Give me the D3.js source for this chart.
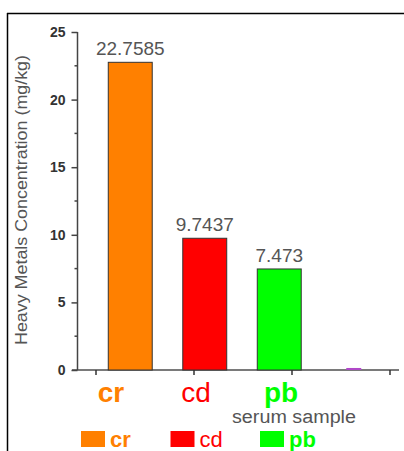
<!DOCTYPE html>
<html>
<head>
<meta charset="utf-8">
<script src="https://cdn.jsdelivr.net/npm/d3@7"></script>
<style>
  html, body { margin: 0; padding: 0; background: #fff; }
  svg { display: block; font-family: "Liberation Sans", Arial, sans-serif; }
</style>
</head>
<body>
<svg id="chart" width="404" height="451"></svg>
<script>
// ---- data ----
const categories = ["cr", "cd", "pb", ""];
const values = [22.7585, 9.7437, 7.473, 0.15];
const valueLabels = ["22.7585", "9.7437", "7.473", ""];
const barColors = ["#ff8000", "#ff0000", "#00ff00", "#b048c8"];
const legendCats = ["cr", "cd", "pb"];
const legendWeights = ["bold", "normal", "bold"];
const yTicks = [0, 5, 10, 15, 20, 25];
const yTitle = "Heavy Metals Concentration (mg/kg)";
const xTitle = "serum sample";

const svg = d3.select("#chart");

// frame
svg.append("line").attr("x1", 7.5).attr("x2", 7.5).attr("y1", 13).attr("y2", 451)
  .attr("stroke", "#000").attr("stroke-width", 1.5);
svg.append("line").attr("x1", 7).attr("x2", 404).attr("y1", 13.5).attr("y2", 13.5)
  .attr("stroke", "#000").attr("stroke-width", 1.5);

const y = d3.scaleLinear().domain([0, 25]).range([370, 32]);
const x = d3.scaleBand().domain(categories).range([93, 391])
  .paddingInner(0.41).paddingOuter(0.205);

// x axis line
svg.append("line").attr("x1", 72).attr("x2", 399).attr("y1", y(0)).attr("y2", y(0))
  .attr("stroke", "#7a7a7a").attr("stroke-width", 2);

// x ticks
const xt = d3.scalePoint().domain(categories).range([96, 390]);
svg.append("g").selectAll("line").data(categories).join("line")
  .attr("x1", d => xt(d)).attr("x2", d => xt(d))
  .attr("y1", y(0)).attr("y2", y(0) + 5)
  .attr("stroke", "#333").attr("stroke-width", 1.5);

// y axis
const yAxis = d3.axisLeft(y).tickValues(yTicks).tickSize(6).tickPadding(6).tickFormat(d3.format("d"));
const gy = svg.append("g").attr("transform", "translate(77.5,0)").call(yAxis);
gy.select(".domain").attr("stroke", "#444").attr("stroke-width", 1.5).attr("d", `M0,${y(25)}V${y(0)}`);
gy.selectAll(".tick line").attr("stroke", "#444").attr("stroke-width", 1.5);
gy.selectAll(".tick text").attr("font-size", 14).attr("font-weight", "bold")
  .attr("fill", "#333").attr("font-family", "'Liberation Sans', Arial, sans-serif");
// minor ticks
const minor = d3.range(2.5, 25, 5);
gy.append("g").selectAll("line").data(minor).join("line")
  .attr("x1", -3).attr("x2", 0).attr("y1", d => y(d)).attr("y2", d => y(d))
  .attr("stroke", "#444").attr("stroke-width", 1.5);

// bars
svg.append("g").selectAll("rect").data(categories).join("rect")
  .attr("x", (d, i) => i < 3 ? x(d) : x(d) + x.bandwidth() / 2 - 7.5)
  .attr("width", (d, i) => i < 3 ? x.bandwidth() : 15)
  .attr("y", (d, i) => y(values[i]))
  .attr("height", (d, i) => y(0) - y(values[i]))
  .attr("fill", (d, i) => barColors[i])
  .attr("stroke", (d, i) => i < 3 ? "#333" : "none")
  .attr("stroke-width", 1);

// value labels
svg.append("g").selectAll("text").data(categories).join("text")
  .attr("x", d => x(d) + x.bandwidth() / 2)
  .attr("y", (d, i) => y(values[i]) - 7)
  .attr("text-anchor", "middle")
  .attr("font-size", 19).attr("fill", "#555")
  .text((d, i) => valueLabels[i]);

// category labels
const xl = d3.scalePoint().domain(legendCats).range([111, 281]);
svg.append("g").selectAll("text").data(legendCats).join("text")
  .attr("x", d => xl(d)).attr("y", 402)
  .attr("text-anchor", "middle")
  .attr("font-size", 28)
  .attr("font-weight", (d, i) => legendWeights[i])
  .attr("fill", (d, i) => barColors[i])
  .text(d => d);

// x title
svg.append("text").attr("x", 294).attr("y", 423).attr("text-anchor", "middle")
  .attr("font-size", 18).attr("fill", "#555")
  .attr("textLength", 124).attr("lengthAdjust", "spacingAndGlyphs")
  .text(xTitle);

// y title
svg.append("text").attr("transform", "translate(27,200) rotate(-90)")
  .attr("text-anchor", "middle").attr("font-size", 16).attr("fill", "#555")
  .attr("textLength", 290).attr("lengthAdjust", "spacingAndGlyphs")
  .text(yTitle);

// legend
const lx = d3.scalePoint().domain(legendCats).range([81, 260]);
const lg = svg.append("g").selectAll("g").data(legendCats).join("g")
  .attr("transform", d => `translate(${lx(d)},431)`);
lg.append("rect").attr("width", 24).attr("height", 16)
  .attr("fill", (d, i) => barColors[i]);
lg.append("text").attr("x", 29).attr("y", 16)
  .attr("font-size", 22)
  .attr("font-weight", (d, i) => legendWeights[i])
  .attr("fill", (d, i) => barColors[i])
  .text(d => d);
</script>
</body>
</html>
